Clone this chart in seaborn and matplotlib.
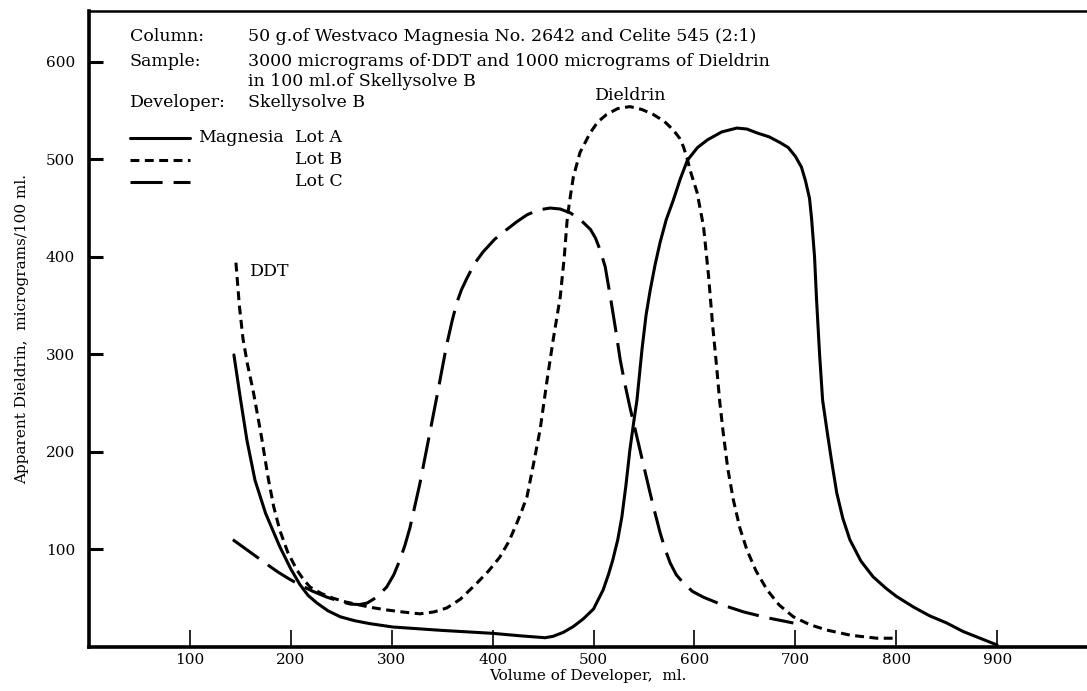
import numpy as np
import pandas as pd
import matplotlib
matplotlib.use("Agg")
import matplotlib.pyplot as plt
import seaborn as sns

# values (volume ml, apparent dieldrin ug/100 ml)
lot_a_x = [143.6, 150, 156.5, 164.5, 175, 189, 200, 209, 217, 226, 237, 249, 263, 278,
           301, 350, 400, 427, 452, 460, 470, 480, 490, 500, 509.5, 515, 519, 524, 528,
           532, 536, 540, 543, 548, 552, 556, 561, 566, 572, 579, 586, 593, 603, 613,
           627, 642, 652, 662, 674, 685, 693, 700, 706, 710, 714, 716, 719, 721, 724,
           727, 731.6, 736, 741, 747, 754, 765, 777, 790, 800, 817, 833, 850, 866, 883, 900]
lot_a_y = [299.5, 255, 212, 171, 137, 103, 80, 64, 53, 45, 37, 31, 27, 24,
           20.5, 17, 14, 11.5, 9.5, 11, 15, 21, 29, 39, 58.5, 75, 89, 110, 133,
           165, 202, 232, 253, 305, 340, 365, 392, 415, 438, 458, 480, 499, 512, 520,
           528, 532, 531, 527, 523, 517, 512, 503, 492, 478, 460, 440, 400, 356, 300,
           253, 220, 190, 158, 132, 110, 88, 72, 60, 52, 41, 32, 24.6, 16, 9, 2]

lot_b_x = [145.6, 149, 152.6, 157, 162.5, 167, 171, 177.6, 183, 189, 197, 206, 212, 219,
           230, 242, 255, 268.5, 280, 295, 310, 328, 342, 354.5, 368, 384.5, 396, 407,
           416, 424, 429, 434, 440, 447, 454, 460, 467, 471, 474, 477, 480, 486.6, 496.6,
           504, 513, 524, 536, 548, 559, 570, 579, 585, 589, 593, 595.6, 602.6, 609, 614,
           618, 622, 625, 628.5, 633, 638.5, 645, 652, 661, 672, 684, 698, 714, 731, 755,
           781, 800]
lot_b_y = [394, 350, 316, 290, 263.6, 238, 215, 173, 144, 120, 97, 79, 70, 61.5,
           55, 50, 46, 43, 40.5, 38, 36, 34, 36, 40, 49, 65.6, 78, 92,
           108, 127, 140, 154, 185, 222.6, 274, 315, 359, 400, 440, 462, 482, 507, 527,
           538, 546, 552, 554, 551, 546, 539, 530, 522, 513, 500, 489, 466, 431, 380,
           330, 287, 252, 219.5, 183, 151, 122, 99.5, 78, 58.5, 43, 31, 23, 17.4, 12,
           9, 9]

lot_c_x = [142.6, 160, 177.4, 187, 198, 209, 222, 236, 248, 259, 268, 275.5, 285, 295,
           302, 308, 313, 318, 323, 328, 335, 344.6, 354.5, 360, 364.5, 369, 374.5, 382,
           390.5, 402, 414, 424, 434, 445, 457, 467, 477, 487, 497, 502, 506.5, 511.5,
           516.5, 521.5, 526.5, 531, 536, 541, 546, 551, 556, 561, 566, 571, 576, 582,
           589, 598, 609, 628, 648.6, 672, 698]
lot_c_y = [110, 97, 84, 77, 70, 63.6, 57, 51, 47, 44, 43.5, 45, 51, 61.5,
           74, 89, 104, 122, 145, 168, 205, 256, 310, 335, 353, 366, 378, 393,
           405, 418, 428, 436, 443, 448, 450, 449, 445, 438, 428, 419, 407, 390,
           360, 328, 294, 270, 246, 224, 202, 180, 158, 137, 117, 100, 86, 74,
           65.6, 57, 51, 43, 36, 30, 24.6]

x_ticks = [100, 200, 300, 400, 500, 600, 700, 800, 900]
y_ticks = [100, 200, 300, 400, 500, 600]

lots = ["Lot A", "Lot B", "Lot C"]
styles = {"Lot A": "-", "Lot B": (0, (2.9, 1.8)), "Lot C": (0, (10.5, 3.6))}

df = pd.concat([
    pd.DataFrame({"volume": lot_a_x, "dieldrin": lot_a_y, "lot": "Lot A"}),
    pd.DataFrame({"volume": lot_b_x, "dieldrin": lot_b_y, "lot": "Lot B"}),
    pd.DataFrame({"volume": lot_c_x, "dieldrin": lot_c_y, "lot": "Lot C"}),
])

sns.set_theme(style="ticks")
plt.rcParams["font.family"] = ["DejaVu Serif"]
for k in ["text.color", "axes.labelcolor", "xtick.color", "ytick.color", "axes.edgecolor"]:
    plt.rcParams[k] = "black"

fig = plt.figure(figsize=(10.87, 6.91), dpi=100)
ax = fig.add_axes([89 / 1087, 44 / 691, 998 / 1087, 636 / 691])

for lot in lots:
    sub = df[df["lot"] == lot]
    sns.lineplot(data=sub, x="volume", y="dieldrin", ax=ax, color="black",
                 lw=2.2, linestyle=styles[lot], estimator=None, sort=False)

ax.set_xlim(0, 989)
ax.set_ylim(0, 652)
ax.set_xticks(x_ticks)
ax.set_yticks(y_ticks)
ax.tick_params(axis="x", direction="in", length=12, width=1.2, pad=4, labelsize=11)
ax.tick_params(axis="y", direction="in", length=10, width=2.2, pad=10, labelsize=11)
for s in ["left", "bottom"]:
    ax.spines[s].set_linewidth(2.6)
ax.spines["top"].set_linewidth(1.8)
ax.spines["right"].set_visible(False)

ax.set_xlabel("Volume of Developer,  ml.", fontsize=11, labelpad=2)
ax.set_ylabel("Apparent Dieldrin,  micrograms/100 ml.", fontsize=11, labelpad=12)

# header text
fs = 12.5
ax.text(40.5, 625.6, "Column:", fontsize=fs, va="center")
ax.text(157.5, 625.6, "50 g.of Westvaco Magnesia No. 2642 and Celite 545 (2:1)", fontsize=fs, va="center")
ax.text(40.5, 600, "Sample:", fontsize=fs, va="center")
ax.text(157.5, 600, "3000 micrograms of\u00b7DDT and 1000 micrograms of Dieldrin", fontsize=fs, va="center")
ax.text(157.5, 579.5, "in 100 ml.of Skellysolve B", fontsize=fs, va="center")
ax.text(40.5, 558.5, "Developer:", fontsize=fs, va="center")
ax.text(157.5, 558.5, "Skellysolve B", fontsize=fs, va="center")

# legend drawn in the header block
leg_y = [522, 499.5, 477]
for lot, yy in zip(lots, leg_y):
    ax.plot([40.5, 100], [yy, yy], color="black", lw=2.2, linestyle=styles[lot])
    ax.text(204, yy, lot, fontsize=fs, va="center")
ax.text(108, leg_y[0], "Magnesia", fontsize=fs, va="center")

ax.text(159.6, 385, "DDT", fontsize=fs, va="center")
ax.text(501.5, 565, "Dieldrin", fontsize=fs, va="center")

fig.savefig("out.png", dpi=100)
